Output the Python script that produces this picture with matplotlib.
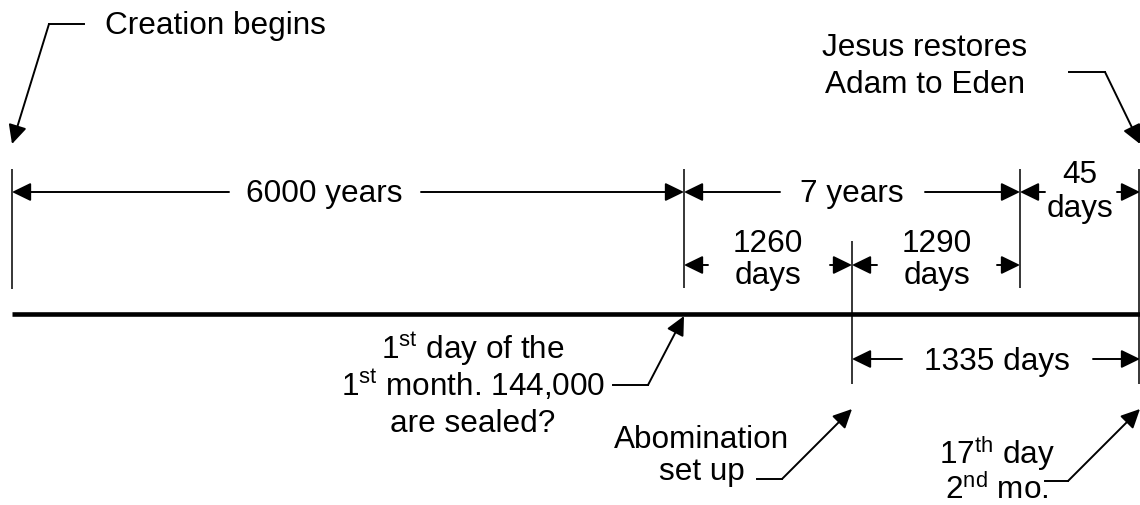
import matplotlib
matplotlib.use("Agg")
import matplotlib.pyplot as plt
from matplotlib.patches import FancyArrowPatch, ArrowStyle

plt.rcParams['font.family'] = ['Liberation Sans', 'DejaVu Sans']
plt.rcParams['mathtext.fontset'] = 'custom'
plt.rcParams['mathtext.rm'] = 'Liberation Sans'
plt.rcParams['mathtext.it'] = 'Liberation Sans'
plt.rcParams['mathtext.bf'] = 'Liberation Sans'

# ---- content ----
span_labels = ['6000 years', '7 years', '1335 days']
span_two_line = [['45', 'days'], ['1260', 'days'], ['1290', 'days']]
creation_label = ['Creation begins']
jesus_label = ['Jesus restores', 'Adam to Eden']
sealed_label = [r'1$^{\mathrm{st}}$ day of the', r'1$^{\mathrm{st}}$ month. 144,000', 'are sealed?']
abomination_label = ['Abomination', 'set up']
day17_label = [r'17$^{\mathrm{th}}$ day', r'2$^{\mathrm{nd}}$ mo.']

FS = 22.7
W, H = 1140, 506
fig = plt.figure(figsize=(W / 100, H / 100), dpi=100)
ax = fig.add_axes([0, 0, 1, 1])
ax.set_xlim(0, W)
ax.set_ylim(H, 0)
ax.axis('off')

K = 'black'
HEAD = ArrowStyle('-|>', head_length=11.5, head_width=5.6)


def arrow(p0, p1, lw=1.4):
    ax.add_patch(FancyArrowPatch(p0, p1, arrowstyle=HEAD, mutation_scale=1,
                                 lw=lw, color=K, shrinkA=0, shrinkB=0))


def dim(x0, x1, y, g0, g1):
    arrow((g0, y), (x0, y))
    arrow((g1, y), (x1, y))


def txt(x, y, s, ha='center'):
    ax.text(x, y, s, ha=ha, va='baseline', fontsize=FS, color=K)


# main timeline
ax.plot([12, 1140], [315, 315], color=K, lw=3.3, solid_capstyle='butt')

# vertical marker lines
for x, y0, y1 in [(12, 170, 290), (684, 170, 289), (1020, 170, 289),
                  (852, 242, 385), (1139, 170, 385)]:
    ax.plot([x, x], [y0, y1], color=K, lw=1.1, solid_capstyle='butt')

# top row spans
dim(12, 684, 193, 229, 421)
txt(324, 202, span_labels[0])
dim(684, 1020, 193, 780, 925)
txt(852, 202, span_labels[1])
dim(1020, 1140, 193, 1045, 1117)
txt(1080, 183, span_two_line[0][0])
txt(1080, 217, span_two_line[0][1])

# second row spans
dim(684, 852, 266, 708, 830)
txt(768, 252, span_two_line[1][0])
txt(768, 284, span_two_line[1][1])
dim(852, 1020, 266, 877, 997)
txt(937, 252, span_two_line[2][0])
txt(937, 284, span_two_line[2][1])

# below timeline span
dim(852, 1140, 360, 902, 1093)
txt(997, 370, span_labels[2])

# annotations with leader lines
txt(105, 34, creation_label[0], ha='left')
ax.plot([84, 49], [25, 25], color=K, lw=1.4)
arrow((49, 25), (12, 145))

txt(925, 56, jesus_label[0])
txt(925, 93, jesus_label[1])
ax.plot([1069, 1105], [73, 73], color=K, lw=1.4)
arrow((1105, 73), (1140, 145))

txt(473, 359, sealed_label[0])
txt(473, 396, sealed_label[1])
txt(473, 432, sealed_label[2])
ax.plot([613, 648], [386, 386], color=K, lw=1.4)
arrow((648, 386), (684, 317))

txt(702, 448, abomination_label[0])
txt(702, 480, abomination_label[1])
ax.plot([757, 782], [480, 480], color=K, lw=1.4)
arrow((782, 480), (852, 410))

txt(997, 464, day17_label[0])
txt(997, 499, day17_label[1])
ax.plot([1045, 1068], [482, 482], color=K, lw=1.4)
arrow((1068, 482), (1140, 410))

fig.savefig('out.png', dpi=100, facecolor='white')
